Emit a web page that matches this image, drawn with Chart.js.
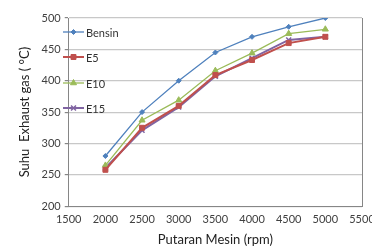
<!DOCTYPE html>
<html>
<head>
<meta charset="utf-8">
<script src="https://cdn.jsdelivr.net/npm/chart.js@4"></script>
<style>
  html, body { margin: 0; padding: 0; background: #fff; }
  #wrap { position: relative; width: 372px; height: 250px; }
</style>
</head>
<body>
<div id="wrap"><canvas id="exhaustChart" width="372" height="250"></canvas></div>
<script>
// Engine speed (rpm)
const rpm = [2000, 2500, 3000, 3500, 4000, 4500, 5000];

// Exhaust gas temperature (°C) per fuel
const bensin = [280, 350, 400, 445, 470, 486, 500];
const e5     = [258, 325, 360, 409, 433, 460, 470];
const e10    = [265, 337, 369, 416, 444, 475, 482];
const e15    = [261, 321, 358, 407, 436, 465, 470];

const xTicks = [1500, 2000, 2500, 3000, 3500, 4000, 4500, 5000, 5500];
const yTicks = [200, 250, 300, 350, 400, 450, 500];

const fontFamily = 'Lato, "Open Sans", sans-serif';

function toPoints(values) {
  return rpm.map((r, i) => ({ x: r, y: values[i] }));
}

const series = [
  { label: 'Bensin', data: bensin, color: '#4f81bd', style: 'rectRot', radius: 2.5, width: 1.3 },
  { label: 'E5',     data: e5,     color: '#c0504d', style: 'rect',    radius: 3.5, width: 2 },
  { label: 'E10',    data: e10,    color: '#9bbb59', style: 'triangle', radius: 3.5, width: 1.3 },
  { label: 'E15',    data: e15,    color: '#8064a2', style: 'crossRot', radius: 3.5, width: 2 }
];

const datasets = series.map(s => ({
  label: s.label,
  data: toPoints(s.data),
  borderColor: s.color,
  backgroundColor: s.color,
  borderWidth: s.width,
  pointStyle: s.style,
  pointRadius: s.radius,
  pointBorderWidth: s.style === 'crossRot' ? 1.5 : 1,
  tension: 0
}));

// Legend drawn inside the plot, top-left, with line + marker samples
const insideLegend = {
  id: 'insideLegend',
  afterDraw(chart) {
    const ctx = chart.ctx;
    const rows = [32, 57, 83, 108];
    ctx.save();
    chart.data.datasets.forEach((ds, i) => {
      const y = rows[i];
      ctx.strokeStyle = ds.borderColor;
      ctx.fillStyle = ds.backgroundColor;
      ctx.lineWidth = ds.borderWidth;
      ctx.beginPath();
      ctx.moveTo(63, y);
      ctx.lineTo(84, y);
      ctx.stroke();
      ctx.lineWidth = ds.pointBorderWidth;
      Chart.helpers.drawPoint(ctx, {
        pointStyle: ds.pointStyle,
        radius: ds.pointRadius,
        rotation: 0,
        borderWidth: ds.pointBorderWidth
      }, 73.5, y);
      ctx.fillStyle = '#333';
      ctx.font = '11px ' + fontFamily;
      ctx.textBaseline = 'middle';
      ctx.fillText(ds.label, 86, y + 1);
    });
    ctx.restore();
  }
};

// Right border of the plot area
const plotBorder = {
  id: 'plotBorder',
  afterDatasetsDraw(chart) {
    const a = chart.chartArea;
    const ctx = chart.ctx;
    ctx.save();
    ctx.strokeStyle = '#868686';
    ctx.lineWidth = 1;
    ctx.beginPath();
    ctx.moveTo(Math.round(a.right) + 0.5, a.top);
    ctx.lineTo(Math.round(a.right) + 0.5, a.bottom);
    ctx.stroke();
    ctx.restore();
  }
};

new Chart(document.getElementById('exhaustChart'), {
  type: 'line',
  data: { datasets },
  options: {
    responsive: false,
    animation: false,
    layout: { padding: { top: 18, right: 10, left: 13, bottom: 2 } },
    plugins: {
      legend: { display: false },
      tooltip: { enabled: false }
    },
    scales: {
      x: {
        type: 'linear',
        min: 1500,
        max: 5500,
        afterBuildTicks: scale => { scale.ticks = xTicks.map(v => ({ value: v })); },
        // let the last label run past the edge, as in the original
        afterFit: scale => { scale.paddingRight = 0; },
        ticks: { color: '#404040', font: { family: fontFamily, size: 11 }, maxRotation: 0, padding: 3, callback: v => String(v) },
        grid: { display: false, drawTicks: true, tickLength: 4, color: '#868686' },
        border: { color: '#868686' },
        title: { display: true, text: 'Putaran Mesin (rpm)', color: '#222', font: { family: fontFamily, size: 13 }, padding: { top: 3, bottom: 0 } }
      },
      y: {
        min: 200,
        max: 500,
        afterBuildTicks: scale => { scale.ticks = yTicks.map(v => ({ value: v })); },
        ticks: { color: '#404040', font: { family: fontFamily, size: 11 }, padding: 4, callback: v => String(v) },
        grid: { color: '#c8c8c8', lineWidth: 1.2, tickLength: 4, tickColor: '#868686' },
        border: { color: '#868686' },
        title: { display: true, text: 'Suhu  Exhaust gas ( \u00B0C)', color: '#222', font: { family: fontFamily, size: 13 }, padding: { bottom: 5 } }
      }
    }
  },
  plugins: [insideLegend, plotBorder]
});
</script>
</body>
</html>
